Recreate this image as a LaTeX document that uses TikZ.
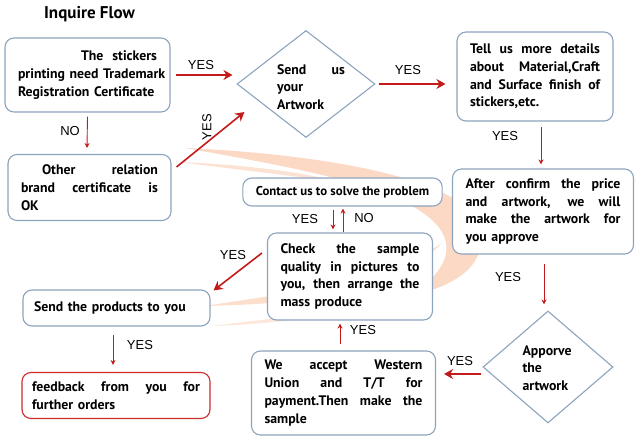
\documentclass[tikz,border=0pt]{standalone}
\usepackage{fontspec}
\setmainfont{PT Sans}
\newfontfamily\labelfont{Liberation Sans}
\usetikzlibrary{shapes,arrows.meta,positioning,calc}

\definecolor{boxline}{RGB}{141,164,190}
\definecolor{arrowred}{RGB}{196,26,26}
\definecolor{feedred}{RGB}{208,42,42}
\definecolor{swoosh}{RGB}{246,160,110}

% one justified line inside a box
\newcommand{\jl}[1]{\makebox[\linewidth][s]{\spaceskip=.3333em plus 1fil\relax #1}\\}

\tikzset{
  flowbox/.style={draw=boxline, fill=white, line width=1.1pt, rounded corners=9pt,
    align=left, inner xsep=13pt, inner ysep=0pt,
    font=\bfseries\fontsize{13.8}{17.7}\selectfont},
  decision/.style={draw=boxline, fill=white, shape=diamond, line width=1.1pt, inner sep=0pt},
  bigarrow/.style={draw=arrowred, line width=2.2pt, -{Stealth[length=9pt,width=10pt]}},
  smallarrow/.style={draw=arrowred, line width=0.9pt, -{Stealth[length=5pt,width=5pt]}},
  answer/.style={font=\labelfont\fontsize{13}{15}\selectfont, inner sep=0pt},
}

\begin{document}
\begin{tikzpicture}[x=1pt, y=-1pt]
    \useasboundingbox (0,0) rectangle (642,443);

    % watermark swoosh
    \fill[swoosh, opacity=0.4] (185,148) .. controls (320,154) and (468,178) .. (480,228)
        .. controls (488,266) and (455,286) .. (410,296)
        .. controls (446,272) and (458,246) .. (434,222)
        .. controls (400,188) and (310,170) .. cycle;
    \fill[swoosh, opacity=0.3] (178,162) .. controls (250,165) and (300,172) .. (340,182)
        .. controls (300,177) and (250,171) .. cycle;
    \fill[swoosh, opacity=0.35] (205,306) .. controls (290,292) and (380,285) .. (442,243)
        .. controls (392,294) and (300,304) .. cycle;
    \fill[swoosh, opacity=0.25] (210,326) .. controls (280,318) and (330,312) .. (380,300)
        .. controls (330,316) and (280,324) .. cycle;

    % Title
    \node[font=\bfseries\fontsize{17}{20}\selectfont] (title) at (89.5,14) {Inquire Flow};

    % Boxes
    \node[flowbox, text width=139pt, minimum width=165pt, minimum height=74pt] (stickers) at (87.5,75) {
        \jl{\hspace*{63pt}The\hfill stickers}
        \jl{printing need Trademark}
        \mbox{Registration Certificate}};
    \node[flowbox, text width=137pt, minimum width=161pt, minimum height=66pt] (other) at (89.5,187.5) {
        \jl{\hspace*{21pt}Other\hfill relation}
        \jl{brand certificate is}
        OK};
    \node[decision, minimum width=138pt, minimum height=107pt] (send) at (306,84) {};
    \node[font=\bfseries\fontsize{13.8}{17.7}\selectfont, text width=68pt, align=left, inner sep=0pt] (send_text) at (311,87) {
        \jl{Send us}
        your\\
        Artwork};
    \node[flowbox, text width=130pt, minimum width=156pt, minimum height=89pt] (details) at (535,76.5) {
        \jl{Tell us more details}
        \jl{about Material,Craft}
        \jl{and Surface finish of}
        \mbox{stickers,etc.}};
    \node[flowbox, text width=155pt, minimum width=180pt, minimum height=85pt] (confirm) at (543,211.5) {
        \jl{After confirm the price}
        \jl{and artwork, we will}
        \jl{make the artwork for}
        \mbox{you approve}};
    \node[decision, minimum width=130pt, minimum height=112pt] (approve) at (548,367) {};
    \node[font=\bfseries\fontsize{13.8}{17.7}\selectfont, align=left, inner sep=0pt] (approve_text) at (547,368) {
        Apporve\\
        the\\
        artwork};
    \node[flowbox, text width=158pt, minimum width=183pt, minimum height=84pt] (payment) at (343.5,393) {
        \jl{We accept Western}
        \jl{Union and T/T for}
        \jl{payment.Then make the}
        sample};
    \node[flowbox, text width=139pt, minimum width=164pt, minimum height=87pt] (check) at (350,276.5) {
        \jl{Check the sample}
        \jl{quality in pictures to}
        \jl{you, then arrange the}
        \mbox{mass produce}};
    \node[flowbox, align=center, minimum width=197pt, minimum height=28pt,
          font=\bfseries\fontsize{12.8}{15}\selectfont] (contact) at (342.5,192) {Contact us to solve the problem};
    \node[flowbox, inner xsep=11pt, text width=165pt, minimum width=187pt, minimum height=36pt] (products) at (116.5,308) {
        \mbox{Send the products to you}};
    \node[flowbox, draw=feedred, inner xsep=10pt, text width=168pt, minimum width=188pt, minimum height=46pt] (feedback) at (116,395.5) {
        \jl{feedback from you for}
        \mbox{further orders}};

    % Connectors
    \draw[bigarrow] ($(stickers.east)+(5pt,0)$) -- ($(send.west |- stickers.east)+(-4pt,0)$);
    \draw[bigarrow] ($(send.east)+(3pt,0)$) -- ($(details.west |- send.east)+(-11pt,0)$);
    \draw[smallarrow] ($(details.south)+(6pt,-5pt)$) -- ($(confirm.north)+(-2pt,4pt)$);
    \draw[smallarrow] ($(confirm.south)+(1pt,-9pt)$) -- ($(approve.north)+(-4pt,6pt)$);
    \draw[bigarrow] ($(approve.west)+(-1pt,-7pt)$) -- ($(payment.east)+(8pt,19pt)$);
    \draw[smallarrow] ($(payment.north)+(-3.5pt,6pt)$) -- ($(check.south)+(-10pt,-3pt)$);
    \draw[smallarrow] ($(contact.south)+(-9.5pt,-3pt)$) -- ($(check.north)+(-17pt,3pt)$);
    \draw[smallarrow] ($(check.north)+(-7pt,0)$) -- ($(contact.south)+(0.5pt,-2pt)$);
    \draw[bigarrow, line width=1.6pt] ($(check.west)+(-5pt,23.5pt)$) -- ($(products.north east)+(3pt,-1pt)$);
    \draw[smallarrow] ($(products.south)+(-3.5pt,-8pt)$) -- ($(feedback.north)+(-3pt,7pt)$);
    \draw[smallarrow] ($(stickers.south)+(0,-4pt)$) -- ($(other.north)+(-2.5pt,6pt)$);
    \draw[bigarrow, line width=1.6pt] ($(other.east)+(5pt,20.5pt)$) -- ($(send.west)+(8pt,-28pt)$);

    % Answers
    \node[answer] (yes_a) at (201,65) {YES};
    \node[answer] (yes_b) at (408,70) {YES};
    \node[answer] (yes_c) at (505,136) {YES};
    \node[answer] (yes_d) at (508,277) {YES};
    \node[answer] (yes_e) at (460,361) {YES};
    \node[answer] (yes_f) at (363,330) {YES};
    \node[answer] (yes_g) at (305,219) {YES};
    \node[answer] (no_g) at (364,218) {NO};
    \node[answer] (yes_h) at (233,255) {YES};
    \node[answer] (yes_i) at (140,345) {YES};
    \node[answer] (no_a) at (70,131) {NO};
    \node[answer, rotate=90] (yes_j) at (207,127) {YES};
\end{tikzpicture}
\end{document}
